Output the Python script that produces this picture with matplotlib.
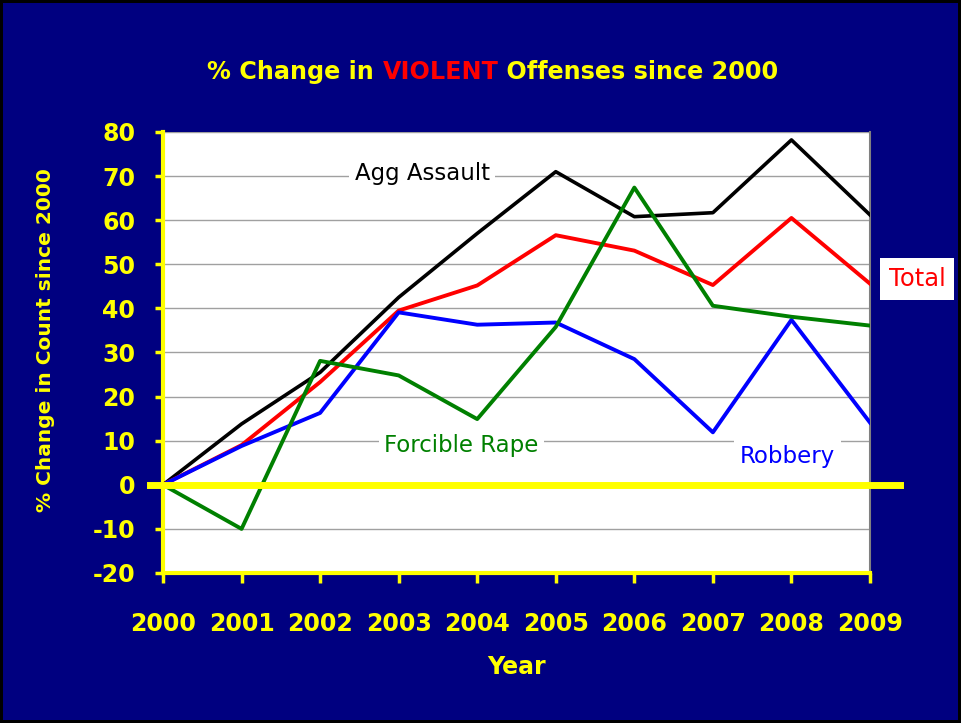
import matplotlib.pyplot as plt

# % change in violent offense counts since 2000
years = [2000, 2001, 2002, 2003, 2004, 2005, 2006, 2007, 2008, 2009]
agg_assault = [0, 13.8, 25.5, 42.5, 57.0, 71.0, 60.8, 61.7, 78.2, 61.2]
total = [0, 9.0, 23.3, 39.5, 45.2, 56.6, 53.1, 45.3, 60.5, 45.6]
robbery = [0, 8.8, 16.3, 39.1, 36.3, 36.8, 28.5, 11.9, 37.4, 14.1]
forcible_rape = [0, -10.0, 28.1, 24.8, 14.9, 35.8, 67.4, 40.6, 38.1, 36.1]
y_ticks = [-20, -10, 0, 10, 20, 30, 40, 50, 60, 70, 80]

NAVY = '#000080'
YELLOW = '#ffff00'
FONT = 'DejaVu Sans'
plt.rcParams['axes.unicode_minus'] = False
plt.rcParams['font.family'] = FONT

fig = plt.figure(figsize=(9.61, 7.23), dpi=100)
fig.patch.set_facecolor(NAVY)
fig.patch.set_edgecolor('black')
fig.patch.set_linewidth(3)

ax = fig.add_axes([163/961, 1 - 573/723, 707/961, 441/723])
ax.set_facecolor('white')

ax.plot(years, agg_assault, color='black', lw=2.6, zorder=3)
ax.plot(years, total, color='#ff0000', lw=2.8, zorder=3)
ax.plot(years, robbery, color='#0000ff', lw=2.8, zorder=3)
ax.plot(years, forcible_rape, color='#008000', lw=2.8, zorder=4)

ax.set_xlim(years[0], years[-1])
ax.set_ylim(y_ticks[0], y_ticks[-1])
ax.set_xticks(years)
ax.set_yticks(y_ticks)
ax.grid(axis='y', color='#a0a0a0', lw=1)
ax.set_axisbelow(True)

# thick yellow zero line running past the plot edges
ax.axhline(0, xmin=-0.018, xmax=1.042, color=YELLOW, lw=5, clip_on=False, zorder=5)

for side in ['left', 'bottom']:
    ax.spines[side].set_color(YELLOW)
    ax.spines[side].set_linewidth(3)
ax.spines['top'].set_visible(False)
ax.spines['right'].set_color('#808080')
ax.spines['right'].set_linewidth(1.5)

ax.tick_params(axis='y', colors=YELLOW, direction='out', length=6, width=2.5, pad=14)
ax.tick_params(axis='x', colors=YELLOW, direction='out', length=7, width=2.5, pad=21)
for lbl in ax.get_xticklabels() + ax.get_yticklabels():
    lbl.set_fontsize(17)
    lbl.set_fontweight('bold')

ax.set_xlabel('Year', color=YELLOW, fontsize=17, fontweight='bold', labelpad=14)
ax.set_ylabel('% Change in Count since 2000', color=YELLOW, fontsize=14.5,
              fontweight='bold')
ax.yaxis.set_label_coords(-0.153, 0.528)

box = dict(facecolor='white', edgecolor='none', pad=4)
ax.text(2003.3, 70.5, 'Agg Assault', color='black', fontsize=16.5,
        ha='center', va='center', bbox=box, zorder=2)
ax.text(2003.8, 9, 'Forcible Rape', color='#008000', fontsize=16.5,
        ha='center', va='center', bbox=box, zorder=2)
ax.text(2007.95, 6.5, 'Robbery', color='#0000ff', fontsize=16.5,
        ha='center', va='center', bbox=box, zorder=2)
fig.text(917/961, 1 - 279/723, 'Total', color='#ff0000', fontsize=17.5,
         ha='center', va='center',
         bbox=dict(facecolor='white', edgecolor='none', boxstyle='square,pad=0.35'))

# title with the word VIOLENT in red
parts = [('% Change in ', YELLOW), ('VIOLENT', '#ff0000'), (' Offenses since 2000', YELLOW)]
renderer = fig.canvas.get_renderer()
pieces = []
for s, c in parts:
    t = fig.text(0, 1 - 72/723, s, color=c, fontsize=17.2, fontweight='bold',
                 va='center', ha='left')
    pieces.append(t)
widths = [t.get_window_extent(renderer).width for t in pieces]
x = 493 - sum(widths) / 2
for t, w in zip(pieces, widths):
    t.set_x(x / 961)
    x += w

fig.savefig('out.png', dpi=100, facecolor=NAVY, edgecolor='black')
